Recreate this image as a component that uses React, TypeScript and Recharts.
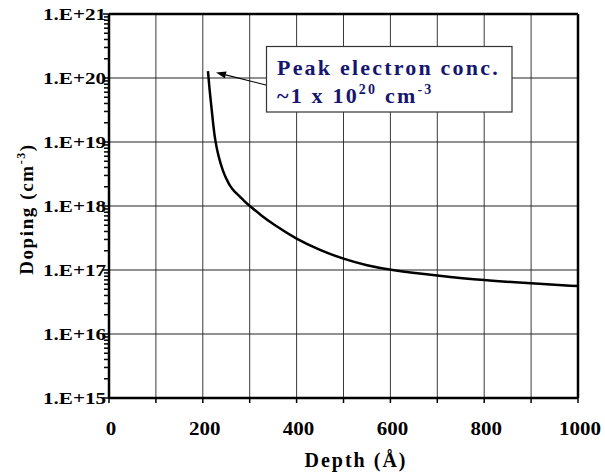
import React from 'react';
import { LineChart, Line, XAxis, YAxis, CartesianGrid, ReferenceLine, Label } from 'recharts';

// depth in Angstrom, doping in cm^-3
const depth = [211, 215, 219, 222.5, 226, 233, 244, 251, 258, 267, 276, 288, 300, 325, 350, 400, 450, 500, 550, 600, 700, 800, 900, 1000];
const doping = [1.28e20, 5.9e19, 3.2e19, 1.8e19, 1.1e19, 6e18, 3.3e18, 2.6e18, 2.04e18, 1.7e18, 1.48e18, 1.2e18, 1e18, 7.08e17, 5.19e17, 3.02e17, 2.04e17, 1.48e17, 1.175e17, 1e17, 8.2e16, 6.9e16, 6.2e16, 5.6e16];

const xTicks = [0, 100, 200, 300, 400, 500, 600, 700, 800, 900, 1000];
const decades = [1e15, 1e16, 1e17, 1e18, 1e19, 1e20, 1e21];
const decadeLabels = ['1.E+15', '1.E+16', '1.E+17', '1.E+18', '1.E+19', '1.E+20', '1.E+21'];
const minorSteps = [2, 3, 4, 5, 6, 7, 8, 9];

const data = depth.map((d, i) => ({ depth: d, doping: doping[i] }));
const yTicks = [
    ...decades,
    ...decades.slice(0, -1).flatMap((d) => minorSteps.map((m) => m * d)),
].sort((a, b) => a - b);

const SERIF = "'Liberation Serif', 'Times New Roman', Times, serif";
const NAVY = '#16166e';

const YTick = (props: any) => {
    const { x, y, payload } = props;
    const idx = decades.findIndex((d) => Math.abs(d - payload.value) / d < 1e-6);
    const major = idx >= 0;
    return (
        <g>
            <line x1={x - (major ? 6 : 5)} x2={x} y1={y} y2={y} stroke="#000" strokeWidth={1.5} />
            {major && (
                <text x={x - 3} y={y + 6} textAnchor="end" fontFamily={SERIF} fontWeight="bold" fontSize={16}
                    textLength={63} lengthAdjust="spacingAndGlyphs" fill="#000">
                    {decadeLabels[idx]}
                </text>
            )}
        </g>
    );
};

const XTick = (props: any) => {
    const { x, y, payload } = props;
    const v = payload.value;
    const label = v % 200 === 0 ? String(v) : '';
    return (
        <g>
            <line x1={x} x2={x} y1={y} y2={y + 5} stroke="#000" strokeWidth={1.5} />
            {label && (
                <text x={x + 2} y={y + 37} textAnchor="middle" fontFamily={SERIF} fontWeight="bold" fontSize={18}
                    textLength={label.length * 10.5} lengthAdjust="spacingAndGlyphs" fill="#000">
                    {label}
                </text>
            )}
        </g>
    );
};

const YTitle = () => (
    <text transform="translate(33,209) rotate(-90)" textAnchor="middle" fontFamily={SERIF}
        fontWeight="bold" fontSize={19} letterSpacing={1.6} fill="#000">
        Doping (cm<tspan fontSize={12} dy={-8}>-3</tspan><tspan dy={8}>)</tspan>
    </text>
);

const XTitle = () => (
    <text x={356} y={467} textAnchor="middle" fontFamily={SERIF} fontWeight="bold" fontSize={20}
        letterSpacing={2} fill="#000">
        Depth (Å)
    </text>
);

// arrow from the annotation box to the peak of the curve
const tail = { x: 266, y: 85 };
const tip = { x: 216, y: 72.5 };

function Arrow() {
    const dx = tip.x - tail.x;
    const dy = tip.y - tail.y;
    const len = Math.hypot(dx, dy);
    const ux = dx / len, uy = dy / len;
    const hl = 10, hw = 3.5;
    const bx = tip.x - ux * hl, by = tip.y - uy * hl;
    const pts = `${tip.x},${tip.y} ${bx - uy * hw},${by + ux * hw} ${bx + uy * hw},${by - ux * hw}`;
    return (
        <g>
            <line x1={tail.x} y1={tail.y} x2={bx} y2={by} stroke="#000" strokeWidth={1.2} />
            <polygon points={pts} fill="#000" />
        </g>
    );
}

export default function App() {
    return (
        <div style={{ position: 'absolute', left: 0, top: 0, width: 605, height: 475, background: '#fff' }}>
            <LineChart width={605} height={475} data={data} margin={{ top: 14, right: 27, left: 0, bottom: 0 }}>
                <CartesianGrid horizontal={false} stroke="#3a3a3a" strokeWidth={1} />
                {decades.slice(1, -1).map((d) => (
                    <ReferenceLine key={d} y={d} stroke="#222" strokeWidth={1} />
                ))}
                <ReferenceLine y={1e21} stroke="#000" strokeWidth={2.5} />
                <ReferenceLine x={1000} stroke="#000" strokeWidth={2.5} />
                <XAxis dataKey="depth" type="number" domain={[0, 1000]} ticks={xTicks} interval={0}
                    axisLine={{ stroke: '#000', strokeWidth: 2.5 }} tickLine={false} tickSize={0} tickMargin={0}
                    tick={<XTick />} height={77}>
                    <Label content={<XTitle />} />
                </XAxis>
                <YAxis dataKey="doping" scale="log" domain={[1e15, 1e21]} ticks={yTicks} interval={0} allowDataOverflow
                    axisLine={{ stroke: '#000', strokeWidth: 2.5 }} tickLine={false} tickSize={0} tickMargin={0}
                    tick={<YTick />} width={109}>
                    <Label content={<YTitle />} />
                </YAxis>
                <Line type="basis" dataKey="doping" stroke="#000" strokeWidth={2.5} dot={false} isAnimationActive={false} />
            </LineChart>
            <svg width={605} height={475} style={{ position: 'absolute', left: 0, top: 0, pointerEvents: 'none' }}>
                <Arrow />
                <rect x={266.5} y={46.5} width={245.5} height={65.5} fill="#fff" stroke="#333" strokeWidth={1.2} />
                <text x={277} y={74.5} fontFamily={SERIF} fontWeight="bold" fontSize={22} letterSpacing={2.2} fill={NAVY}>
                    Peak electron conc.
                </text>
                <text x={277} y={103} fontFamily={SERIF} fontWeight="bold" fontSize={22} letterSpacing={2.2} fill={NAVY}>
                    ~1 x 10<tspan fontSize={14} dy={-9}>20</tspan><tspan dy={9}> cm</tspan><tspan fontSize={14} dy={-9}>-3</tspan>
                </text>
            </svg>
        </div>
    );
}
